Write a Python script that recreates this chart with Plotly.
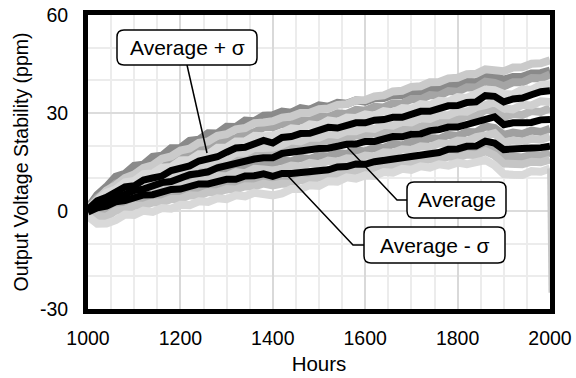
import plotly.graph_objects as go

# ---------------- data ----------------
hours = list(range(1000, 2001, 20))

avg_plus_sigma = [0.5, 3.1, 4.2, 5.9, 7.4, 7.7, 9.5, 10.1, 10.7, 12.4, 13.0, 13.8, 15.3, 15.9, 16.6, 18.0,
                  19.3, 19.5, 20.5, 21.6, 20.8, 22.5, 22.8, 23.7, 23.8, 24.6, 25.6, 25.4, 26.3, 27.0, 27.0,
                  27.8, 28.0, 28.7, 28.7, 29.7, 30.5, 30.5, 31.2, 32.2, 32.3, 33.2, 33.4, 35.3, 35.1, 33.4,
                  34.3, 34.6, 35.6, 36.5, 36.8]
average = [0.0, 1.9, 2.7, 4.3, 5.1, 6.3, 6.7, 7.8, 8.7, 9.0, 10.0, 11.1, 11.5, 12.0, 13.2, 13.9,
           14.3, 15.5, 15.9, 16.3, 16.3, 17.6, 18.0, 18.1, 19.0, 19.1, 19.2, 20.0, 20.4, 20.5, 21.3,
           21.3, 22.0, 22.8, 22.7, 23.5, 23.6, 24.6, 24.9, 25.7, 25.7, 26.5, 27.2, 28.1, 28.8, 26.4,
           27.0, 27.0, 27.1, 27.9, 28.0]
avg_minus_sigma = [-0.3, 1.0, 1.5, 2.8, 3.2, 4.0, 4.9, 5.0, 5.9, 6.6, 6.7, 7.6, 8.3, 8.3, 9.0, 9.7,
                   9.7, 10.7, 10.8, 11.4, 10.6, 11.5, 11.5, 11.7, 12.4, 12.6, 12.6, 13.5, 13.6, 14.4, 14.3,
                   15.1, 15.5, 16.4, 16.4, 16.7, 17.5, 17.9, 17.9, 18.9, 19.0, 19.8, 19.9, 21.4, 20.8, 18.8,
                   18.8, 18.8, 19.3, 19.4, 19.8]

unit_u1 = [1.0, 4.9, 7.4, 10.5, 11.4, 13.8, 14.2, 16.6, 16.9, 19.2, 19.3, 21.5, 21.8, 23.8, 23.7, 25.8,
           25.7, 27.7, 27.5, 29.2, 29.3, 30.4, 30.1, 31.5, 31.0, 32.3, 31.9, 33.1, 32.8, 33.9, 33.5,
           34.5, 34.6, 35.6, 35.5, 36.6, 36.5, 37.6, 37.4, 38.5, 38.5, 39.5, 39.4, 41.0, 41.2, 40.2,
           41.0, 41.1, 42.1, 42.2, 43.0]
unit_u2 = [0.6, 3.4, 6.3, 7.9, 10.1, 11.2, 13.2, 14.0, 16.0, 16.7, 18.5, 19.1, 20.9, 21.3, 23.0, 23.5,
           25.0, 25.4, 26.9, 27.1, 27.5, 28.6, 28.9, 30.0, 30.1, 31.2, 31.4, 32.5, 32.7, 33.9, 34.0,
           35.1, 35.4, 36.6, 36.8, 38.0, 38.2, 39.4, 39.5, 40.6, 40.8, 41.9, 42.0, 43.4, 43.3, 42.8,
           43.9, 44.0, 45.1, 45.2, 46.1]
unit_u3 = [0.7, 4.0, 5.8, 8.4, 9.2, 11.2, 11.7, 13.6, 13.9, 15.9, 16.2, 18.0, 18.4, 20.1, 20.3, 22.0,
           22.3, 24.0, 24.1, 25.6, 25.6, 26.7, 26.5, 27.8, 27.6, 28.9, 28.7, 29.9, 29.7, 31.0, 30.7,
           31.9, 31.7, 33.0, 32.9, 34.3, 34.2, 35.5, 35.3, 36.7, 36.5, 37.9, 37.8, 39.6, 39.2, 38.2,
           39.4, 39.4, 40.7, 40.6, 41.8]
unit_u4 = [0.6, 3.2, 5.6, 6.6, 8.8, 9.2, 11.3, 11.5, 13.3, 13.5, 15.5, 15.6, 17.4, 17.4, 19.4, 19.4,
           21.3, 21.3, 23.0, 22.9, 23.0, 24.0, 25.3, 25.0, 26.5, 26.2, 27.7, 27.3, 28.6, 28.5, 29.6,
           29.2, 30.6, 30.2, 31.5, 31.3, 32.7, 32.4, 33.7, 33.5, 34.9, 34.6, 36.1, 37.2, 37.0, 35.8,
           35.7, 37.2, 37.1, 38.6, 38.7]
unit_m1 = [0.2, 2.4, 3.2, 5.0, 5.5, 7.0, 7.4, 8.9, 9.0, 10.5, 10.7, 12.2, 12.5, 13.8, 14.1, 15.6,
           15.8, 17.2, 17.2, 18.6, 18.5, 19.5, 19.3, 20.5, 20.3, 21.4, 21.2, 22.3, 22.1, 23.2, 22.9,
           23.9, 23.8, 25.0, 24.7, 26.0, 25.8, 27.0, 26.8, 28.1, 27.9, 29.1, 29.0, 31.0, 30.7, 28.7,
           29.7, 29.4, 30.6, 30.3, 31.5]
unit_m2 = [0.3, 2.2, 4.2, 4.9, 6.8, 7.0, 8.9, 9.0, 10.5, 10.7, 12.4, 12.6, 14.2, 14.3, 15.9, 16.1,
           17.8, 17.8, 19.3, 19.3, 19.4, 20.3, 21.6, 21.3, 22.5, 22.4, 23.6, 23.3, 24.5, 24.4, 25.4,
           25.1, 26.4, 26.1, 27.3, 27.1, 28.4, 28.2, 29.4, 29.3, 30.5, 30.4, 31.8, 32.4, 33.3, 31.4,
           31.1, 32.5, 32.3, 33.6, 33.4]
unit_m3 = [-0.1, 1.6, 2.3, 3.8, 4.1, 5.5, 5.7, 7.1, 7.1, 8.5, 8.6, 9.9, 9.9, 11.3, 11.2, 12.6,
           12.6, 13.8, 13.7, 14.9, 14.6, 15.4, 15.2, 16.3, 15.9, 17.0, 16.7, 17.7, 17.5, 18.6, 18.2,
           19.4, 19.3, 20.5, 20.1, 21.3, 21.1, 22.3, 22.1, 23.3, 23.0, 24.2, 24.1, 25.9, 25.4, 23.3,
           24.0, 23.6, 24.6, 24.2, 25.2]
unit_m4 = [-0.2, 0.9, 2.4, 2.7, 4.2, 4.3, 5.7, 5.7, 7.0, 7.0, 8.4, 8.3, 9.6, 9.4, 10.7, 10.6,
           11.9, 11.6, 12.9, 12.7, 12.4, 12.9, 13.9, 13.6, 14.7, 14.3, 15.4, 15.1, 16.1, 15.9, 17.0,
           16.7, 18.0, 17.8, 18.9, 18.7, 19.8, 19.6, 20.7, 20.5, 21.6, 21.4, 22.6, 23.1, 23.8, 21.0,
           21.6, 21.2, 22.1, 21.8, 22.8]
unit_l1 = [-0.8, 0.0, 0.0, 1.3, 1.5, 2.7, 2.7, 3.9, 3.9, 5.1, 5.0, 6.1, 6.0, 7.1, 7.0, 8.1,
           8.0, 9.0, 8.9, 9.9, 9.3, 9.9, 9.6, 10.6, 10.3, 11.2, 11.0, 12.0, 11.7, 12.8, 12.6,
           13.7, 13.7, 14.8, 14.5, 15.6, 15.4, 16.5, 16.3, 17.4, 17.1, 18.2, 18.1, 19.9, 18.9, 16.5,
           16.7, 16.4, 17.2, 17.0, 17.9]
unit_l2 = [-1.1, -1.3, -1.8, 0.1, 0.4, 1.6, 1.6, 2.6, 2.6, 3.7, 3.7, 4.8, 4.7, 5.8, 5.7, 6.7,
           6.6, 7.6, 7.5, 8.4, 7.8, 8.4, 8.3, 9.5, 9.3, 10.3, 10.3, 11.4, 11.3, 12.4, 12.0,
           13.1, 13.1, 14.1, 13.9, 15.0, 14.8, 15.9, 15.7, 16.7, 16.3, 17.3, 17.1, 18.3, 17.0, 14.5,
           14.6, 14.3, 15.1, 14.9, 15.7]
unit_l3 = [-1.6, -3.9, -3.8, -2.8, -1.1, -1.2, 0.1, -0.3, 0.9, 0.7, 1.9, 1.8, 3.0, 2.8, 3.9, 3.6,
           4.8, 4.5, 5.6, 5.2, 4.8, 5.4, 6.7, 6.7, 7.9, 7.7, 9.1, 9.0, 10.3, 9.9, 10.9,
           10.7, 11.9, 11.7, 12.9, 12.6, 13.7, 13.3, 14.3, 13.9, 14.8, 14.3, 15.2, 15.6, 14.0, 11.3,
           11.1, 11.0, 12.2, 12.0, 13.0]
drop_hours = [1997, 2000]
drop_values = [13.0, -25.0]

x_ticks = [1000, 1200, 1400, 1600, 1800, 2000]
y_ticks = [-30, 0, 30, 60]
y_tick_text = ["-30", "0", "30", "60"]
label_plus = "Average + σ"
label_avg = "Average"
label_minus = "Average - σ"

# ---------------- figure ----------------
FONT = "Arial, Liberation Sans, sans-serif"
L, R, T, B = 88, 550, 15, 309
W, H = 576, 378

units = [
    (unit_u1, "#8a8a8a"), (unit_u3, "#a5a5a5"), (unit_u2, "#cacaca"), (unit_u4, "#d8d8d8"),
    (unit_m1, "#b8b8b8"), (unit_m2, "#d0d0d0"), (unit_m3, "#a0a0a0"), (unit_m4, "#cbcbcb"),
    (unit_l1, "#b0b0b0"), (unit_l2, "#c5c5c5"), (unit_l3, "#d9d9d9"),
]

fig = go.Figure()
for vals, col in units:
    fig.add_trace(go.Scatter(x=hours, y=vals, mode="lines",
                             line=dict(color=col, width=8), showlegend=False, hoverinfo="skip"))
fig.add_trace(go.Scatter(x=drop_hours, y=drop_values, mode="lines",
                         line=dict(color="#c8c8c8", width=3), showlegend=False, hoverinfo="skip"))
for vals in (avg_minus_sigma, average, avg_plus_sigma):
    fig.add_trace(go.Scatter(x=hours, y=vals, mode="lines",
                             line=dict(color="black", width=7), showlegend=False, hoverinfo="skip"))


def pp(px, py):
    return (px - L) / (R - L), (B - py) / (B - T)


def rrect(x0, y0, x1, y1, r=7):
    pts = [("M", x0 + r, y0), ("L", x1 - r, y0), ("Q", x1, y0, x1, y0 + r), ("L", x1, y1 - r),
           ("Q", x1, y1, x1 - r, y1), ("L", x0 + r, y1), ("Q", x0, y1, x0, y1 - r),
           ("L", x0, y0 + r), ("Q", x0, y0, x0 + r, y0)]
    s = ""
    for p in pts:
        coords = p[1:]
        parts = []
        for i in range(0, len(coords), 2):
            a, b = pp(coords[i], coords[i + 1])
            parts.append(f"{a:.5f},{b:.5f}")
        s += p[0] + " " + " ".join(parts) + " "
    return s + "Z"


def polyline(points):
    s = ""
    for i, (px, py) in enumerate(points):
        a, b = pp(px, py)
        s += ("M " if i == 0 else "L ") + f"{a:.5f},{b:.5f} "
    return s


shapes = []
leaders = [
    [(187, 65), (207, 153)],
    [(347, 147), (397, 200), (407, 200)],
    [(287, 175), (353, 245), (364, 245)],
]
for ln in leaders:
    shapes.append(dict(type="path", xref="paper", yref="paper", path=polyline(ln),
                       line=dict(color="black", width=1.5), layer="above"))

boxes = [((117, 30, 257, 65), label_plus), ((407, 182, 506, 218), label_avg),
         ((364, 227, 505, 263), label_minus)]
annotations = []
for (x0, y0, x1, y1), txt in boxes:
    shapes.append(dict(type="path", xref="paper", yref="paper", path=rrect(x0, y0, x1, y1),
                       line=dict(color="black", width=1.5), fillcolor="white", layer="above"))
    cx, cy = pp((x0 + x1) / 2, (y0 + y1) / 2)
    annotations.append(dict(x=cx, y=cy, xref="paper", yref="paper", text=txt, showarrow=False,
                            xanchor="center", yanchor="middle",
                            font=dict(family=FONT, size=21, color="black")))

fig.update_layout(
    width=W, height=H,
    margin=dict(l=L, r=W - R, t=T, b=H - B, pad=0, autoexpand=False),
    paper_bgcolor="white", plot_bgcolor="white",
    font=dict(family=FONT, size=20, color="black"),
    shapes=shapes, annotations=annotations, showlegend=False,
)
fig.update_xaxes(
    range=[1000, 2000], tickmode="array", tickvals=x_ticks, automargin=False,
    showline=True, linewidth=5, linecolor="black", mirror=True,
    showgrid=True, gridcolor="#d9d9d9", gridwidth=1.5, zeroline=False,
    minor=dict(dtick=50, showgrid=True, gridcolor="#ececec", gridwidth=1.5),
    ticks="outside", ticklen=8, tickcolor="rgba(0,0,0,0)",
    tickfont=dict(family=FONT, size=19.5),
    title=dict(text="Hours", font=dict(family=FONT, size=20.5), standoff=10),
)
fig.update_yaxes(
    range=[-30, 60], tickmode="array", tickvals=y_ticks, ticktext=y_tick_text, automargin=False,
    showline=True, linewidth=5, linecolor="black", mirror=True,
    showgrid=True, gridcolor="#dcdcdc", gridwidth=1.5, zeroline=False,
    minor=dict(dtick=10, showgrid=True, gridcolor="#ececec", gridwidth=1.5),
    ticks="outside", ticklen=11, tickcolor="rgba(0,0,0,0)",
    tickfont=dict(family=FONT, size=19.5),
    title=dict(text="Output Voltage Stability (ppm)", font=dict(family=FONT, size=19.5), standoff=8),
)

fig.write_html("out.html")
